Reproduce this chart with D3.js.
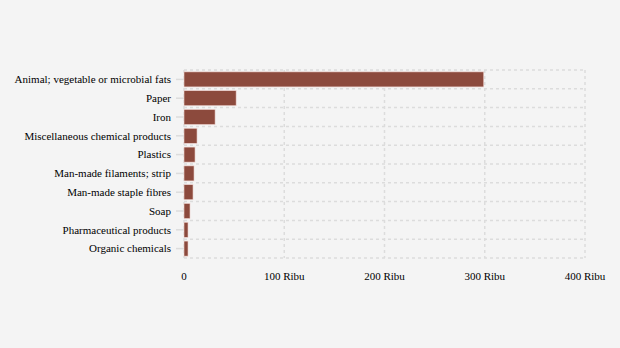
<!DOCTYPE html>
<html><head><meta charset="utf-8">
<script src="https://cdn.jsdelivr.net/npm/d3@7"></script>
<style>
html,body{margin:0;padding:0;background:#f4f4f4;}
svg{display:block;}
</style></head><body>
<svg id="c" width="620" height="348"></svg>
<script>
const categories = ["Animal; vegetable or microbial fats","Paper","Iron","Miscellaneous chemical products","Plastics","Man-made filaments; strip","Man-made staple fibres","Soap","Pharmaceutical products","Organic chemicals"];
const values = [299, 52, 31, 13, 11, 10, 9, 6, 4, 4]; // thousands (Ribu)
const tickValues = [0, 100, 200, 300, 400];
const tickLabels = ["0", "100 Ribu", "200 Ribu", "300 Ribu", "400 Ribu"];

const FONT = "Liberation Serif";
const svg = d3.select("#c");
const mL = 184, mR = 585, mT = 70, mB = 258;
const x = d3.scaleLinear().domain([0, 400]).range([mL, mR]);
const y = d3.scaleBand().domain(categories).range([mT, mB]).paddingInner(0.2).paddingOuter(0.1);

// grid
const g = svg.append("g");
tickValues.forEach(v => {
  g.append("line").attr("x1", x(v)).attr("x2", x(v)).attr("y1", mT).attr("y2", mB)
    .attr("stroke", "#dcdcdc").attr("stroke-width", 1.5).attr("stroke-dasharray", "3,3");
});
const step = (mB - mT) / categories.length;
for (let i = 0; i <= categories.length; i++) {
  const yy = mT + i * step;
  g.append("line").attr("x1", mL).attr("x2", mR).attr("y1", yy).attr("y2", yy)
    .attr("stroke", "#dcdcdc").attr("stroke-width", 1.5).attr("stroke-dasharray", "3,3");
}
// left ticks
categories.forEach(c => {
  const yy = y(c) + y.bandwidth() / 2;
  g.append("line").attr("x1", mL - 8).attr("x2", mL).attr("y1", yy).attr("y2", yy)
    .attr("stroke", "#dcdcdc").attr("stroke-width", 1.5);
});

// bars
svg.append("g").selectAll("rect").data(categories).join("rect")
  .attr("x", x(0)).attr("y", c => y(c))
  .attr("width", (c, i) => x(values[i]) - x(0))
  .attr("height", y.bandwidth())
  .attr("fill", "#8c4a3d").attr("stroke", "#f0d6d2").attr("stroke-width", 0.6);

// category labels
svg.append("g").selectAll("text").data(categories).join("text")
  .attr("x", mL - 13).attr("y", c => y(c) + y.bandwidth() / 2)
  .attr("dy", "0.35em").attr("text-anchor", "end")
  .attr("font-family", FONT).attr("font-size", 11).attr("fill", "#000")
  .text(d => d);

// x labels
svg.append("g").selectAll("text").data(tickValues).join("text")
  .attr("x", d => x(d)).attr("y", 280)
  .attr("text-anchor", "middle")
  .attr("font-family", FONT).attr("font-size", 11).attr("fill", "#000")
  .text((d, i) => tickLabels[i]);
</script>
</body></html>
